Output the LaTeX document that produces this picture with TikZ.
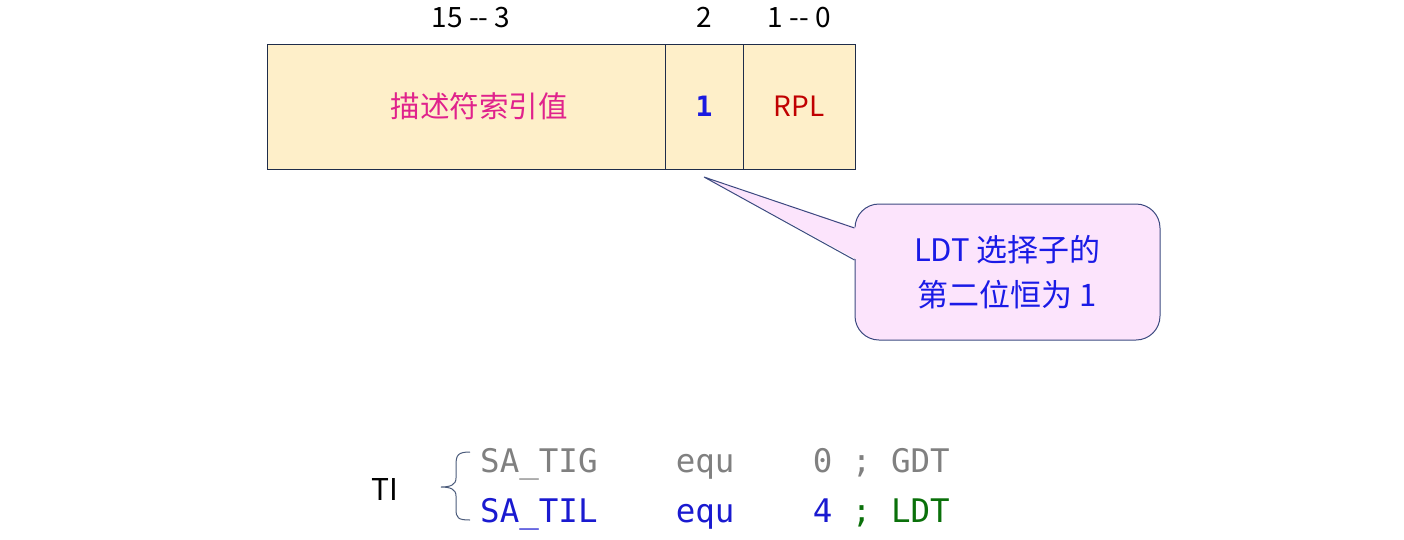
\documentclass[tikz,border=0pt]{standalone}
\usepackage{fontspec}
\setmainfont{Noto Sans CJK SC}
\setmonofont{DejaVu Sans Mono}
\usetikzlibrary{positioning}

\definecolor{fieldfill}{HTML}{FEEFC9}
\definecolor{fieldline}{HTML}{1F2D4A}
\definecolor{indexpink}{HTML}{E0228C}
\definecolor{tiblue}{HTML}{1A1AE0}
\definecolor{rplred}{HTML}{C00000}
\definecolor{notefill}{HTML}{FCE4FC}
\definecolor{noteline}{HTML}{3C4A80}
\definecolor{noteblue}{HTML}{1A1AE6}
\definecolor{codegray}{HTML}{808080}
\definecolor{codeblue}{HTML}{1A1AD0}
\definecolor{codegreen}{HTML}{0A700A}
\definecolor{bracecol}{HTML}{4A5A7A}

\begin{document}
\begin{tikzpicture}[x=1pt, y=-1pt]
\tikzstyle{field} = [draw=fieldline, line width=1pt, fill=fieldfill, minimum height=125pt, inner sep=0pt, outer sep=0pt, font=\fontsize{28}{32}\selectfont]
\tikzstyle{bits} = [anchor=base, inner sep=0pt, font=\fontsize{28}{32}\selectfont]
\tikzstyle{notebox} = [draw=noteline, line width=1pt, fill=notefill, rounded corners=24pt, minimum width=305pt, minimum height=136pt, align=center, text=noteblue, font=\fontsize{31}{45}\selectfont]
\tikzstyle{code} = [anchor=base west, inner sep=0pt, font=\ttfamily\fontsize{32.5}{40}\selectfont]

\useasboundingbox (0,0) rectangle (1404,539);

%selector fields
\node (index)[field, minimum width=398pt] at (466,106.5) {};
\node (indextext)[text=indexpink, font=\fontsize{29.5}{32}\selectfont] at ([xshift=13pt]index.center) {描述符索引值};
\node (ti)[field, minimum width=78pt, right=0pt of index, text=tiblue, font=\ttfamily\bfseries\fontsize{28}{32}\selectfont] {1};
\node (rpl)[field, minimum width=112pt, right=0pt of ti, text=rplred] {RPL};

%%bit numbers
\node (bitsindex)[bits] at ([xshift=5pt, yshift=17pt]index.north) {15 -{}- 3};
\node (bitsti)[bits] at ([yshift=17pt]ti.north) {2};
\node (bitsrpl)[bits] at ([yshift=17pt]rpl.north) {1 -{}- 0};

%callout
\node (note)[notebox] at (1007.5,272) {LDT 选择子的\\第二位恒为 1};
\coordinate (tip) at ([yshift=-8pt]ti.south);
\fill [notefill] ([xshift=3pt, yshift=44pt]note.west) -- (tip) -- ([xshift=3pt, yshift=12pt]note.west) -- cycle;
\draw [noteline, line width=1pt] ([yshift=44pt]note.west) -- (tip) -- ([yshift=12pt]note.west);

%TI definitions
\node (tilabel)[bits, font=\fontsize{30}{32}\selectfont] at (385,500) {TI};
\node (tig)[code, text=codegray] at (480,472) {SA\_TIG\ \ \ \ equ\ \ \ \ 0 ; GDT};
\node (til)[code, text=codeblue] at (480,522) {SA\_TIL\ \ \ \ equ\ \ \ \ 4 {\color{codegreen}; LDT}};
\draw [bracecol, line width=1pt] (470,452) .. controls (458,452) and (456,455) .. (456,465) -- (456,478)
  .. controls (456,485) and (450,487) .. (441,487) .. controls (450,487) and (456,489) .. (456,496)
  -- (456,509) .. controls (456,518) and (458,520) .. (470,520);

\end{tikzpicture}
\end{document}
